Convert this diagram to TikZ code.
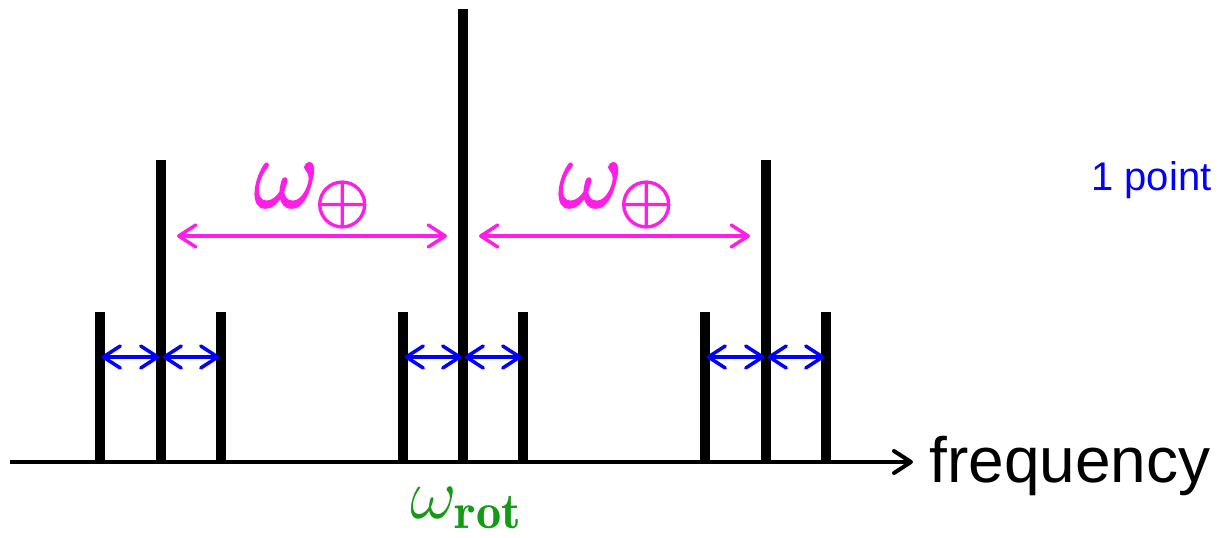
\RequirePackage{fix-cm}
\documentclass[tikz,border=0pt]{standalone}
\usepackage{fontspec}
\newfontfamily\sansfam{Liberation Sans}
\usetikzlibrary{arrows.meta}
\definecolor{gapblue}{HTML}{0000FF}
\definecolor{beat}{HTML}{FF1EE6}
\definecolor{rotgreen}{HTML}{149A14}
\newcommand\heavy[1]{\special{pdf:literal direct 2 Tr 1.6 w}#1\special{pdf:literal direct 0 Tr 1 w}}

\begin{document}
\begin{tikzpicture}[x=1pt,y=-1pt,
 spike/.style={line width=10pt,black},
 gap/.style={<->,line width=3.5pt,gapblue},
 orbit/.style={<->,line width=3.5pt,beat,shorten >=16pt,shorten <=16pt},
 axis/.style={->,line width=4pt,black},
 >={Straight Barb[round,length=17pt,width=22pt]}]
\useasboundingbox (0,0) rectangle (1219,538);
% spectrum lines
\foreach \n/\x/\h in {l1/100/312,l2/161/160,l3/221/312,c1/403/312,c2/463/9,c3/523/312,r1/705/312,r2/766/160,r3/826/312} {
 \coordinate (\n b) at (\x,462);
 \coordinate (\n t) at (\x,\h);
 \coordinate (\n m) at (\x,357);
 \coordinate (\n o) at (\x,236);
 \draw[spike] (\n b)--(\n t);
}
\coordinate (ax0) at (10,462);
\coordinate (ax1) at (913,462);
\draw[axis] (ax0)--(ax1);
\node[anchor=base west,font=\sansfam\fontsize{64}{76}\selectfont] (freq) at (926,482) {frequency};
\foreach \a/\b in {l1/l2,l2/l3,c1/c2,c2/c3,r1/r2,r2/r3} \draw[gap,shorten <=1.5pt,shorten >=1.5pt] (\a m)--(\b m);
\draw[orbit] (l2o)--(c2o);
\draw[orbit] (c2o)--(r2o);
\node[anchor=base,text=beat,font=\fontsize{100}{120}\selectfont] (wl) at (312,207) {\heavy{$\omega_\oplus$}};
\node[anchor=base,text=beat,font=\fontsize{100}{120}\selectfont] (wr) at (616,207) {\heavy{$\omega_\oplus$}};
\node[anchor=base,text=rotgreen,font=\fontsize{72}{86}\selectfont] (wrot) at (466,518) {$\omega_{\mathbf{rot}}$};
\node[anchor=base east,text=gapblue,font=\sansfam\fontsize{40}{48}\selectfont] (pts) at (1215,190) {1 point};
\end{tikzpicture}
\end{document}
